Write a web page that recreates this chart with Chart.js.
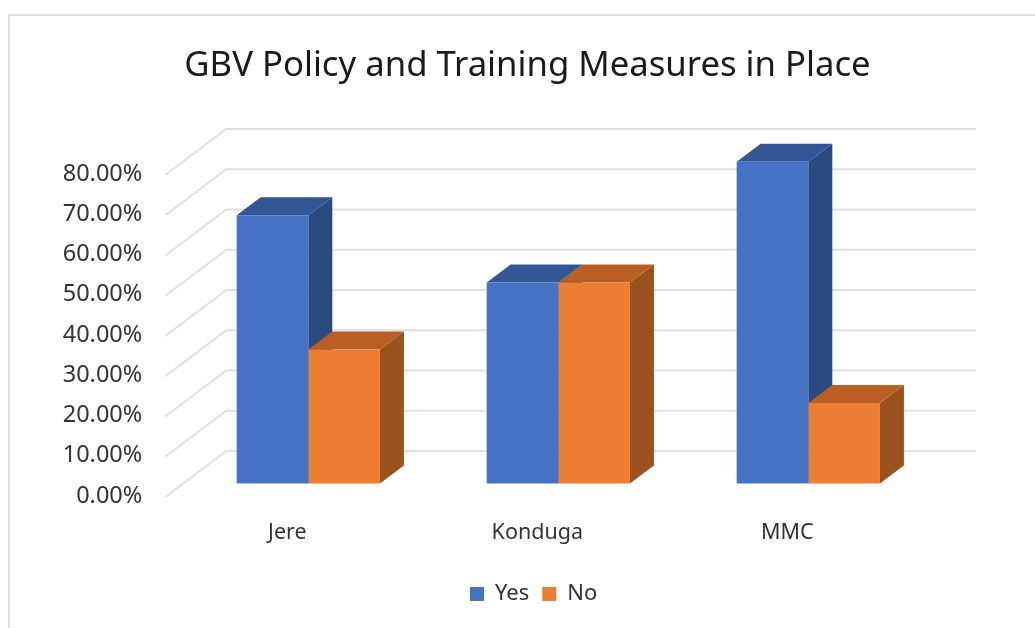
<!DOCTYPE html>
<html>
<head>
<meta charset="utf-8">
<script src="https://cdn.jsdelivr.net/npm/chart.js@4"></script>
<style>
html,body{margin:0;padding:0;background:#fff;overflow:hidden;width:1035px;height:628px}
#frame{position:absolute;left:8px;top:14px;width:1040px;height:640px;border:2px solid #e0e0e0;box-sizing:border-box}
canvas{position:absolute;left:0;top:0}
</style>
</head>
<body>
<div id="frame"></div>
<canvas id="c" width="1035" height="628"></canvas>
<script>
const categories = ["Jere", "Konduga", "MMC"];
const yesValues = [66.67, 50, 80];
const noValues = [33.33, 50, 20];
const chartTitle = "GBV Policy and Training Measures in Place";
const seriesNames = ["Yes", "No"];

const FONT = '"Noto Sans", sans-serif';
const TEXT = '#333333';
const faces = [
  {front:'#4472C4', side:'#2B4A80', top:'#335696'},
  {front:'#ED7D31', side:'#9A521F', top:'#B95F24'}
];
const BAR_DX = 24, BAR_DY = 18;

const depthPlugin = {
  id: 'depth',
  afterLayout(chart) {
    chart.titleBlock.left += 60.85; chart.titleBlock.right += 60.85;
    chart.legend.left += 67; chart.legend.right += 67;
  },
  beforeDatasetsDraw(chart) {
    const ctx = chart.ctx, y = chart.scales.y, a = chart.chartArea;
    ctx.save();
    ctx.strokeStyle = '#e0e0e0';
    ctx.lineWidth = 2;
    y.ticks.forEach(t => {
      const py = y.getPixelForValue(t.value);
      ctx.beginPath();
      ctx.moveTo(a.left - 18, py + 1);
      ctx.lineTo(a.left + 43, py - 45);
      ctx.lineTo(976, py - 45);
      ctx.stroke();
    });
    [0, 1].forEach(i => {
      chart.getDatasetMeta(i).data.forEach(b => {
        const p = b.getProps(['x', 'y', 'base', 'width'], true);
        const l = p.x - p.width / 2, r = p.x + p.width / 2;
        ctx.fillStyle = faces[i].side;
        ctx.beginPath();
        ctx.moveTo(r, p.y); ctx.lineTo(r + BAR_DX, p.y - BAR_DY);
        ctx.lineTo(r + BAR_DX, p.base - BAR_DY); ctx.lineTo(r, p.base);
        ctx.closePath(); ctx.fill();
        ctx.fillStyle = faces[i].top;
        ctx.beginPath();
        ctx.moveTo(l, p.y); ctx.lineTo(l + BAR_DX, p.y - BAR_DY);
        ctx.lineTo(r + BAR_DX, p.y - BAR_DY); ctx.lineTo(r, p.y);
        ctx.closePath(); ctx.fill();
      });
    });
    ctx.restore();
  }
};

new Chart(document.getElementById('c'), {
  type: 'bar',
  data: {
    labels: categories,
    datasets: [
      {label: seriesNames[0], data: yesValues, backgroundColor: faces[0].front, yAxisID: 'yBars'},
      {label: seriesNames[1], data: noValues, backgroundColor: faces[1].front, yAxisID: 'yBars'}
    ]
  },
  plugins: [depthPlugin],
  options: {
    responsive: false,
    animation: false,
    layout: {padding: {left: 0, right: 101.7, top: 0, bottom: 13}},
    datasets: {bar: {barPercentage: 1, categoryPercentage: 0.573}},
    scales: {
      x: {
        grid: {display: false}, border: {display: false},
        ticks: {labelOffset: -21, padding: 16, color: TEXT, font: {family: FONT, size: 21.5}, maxRotation: 0},
        afterFit(s) { s.height = 74; }
      },
      y: {
        min: 0, max: 91.18, position: 'left',
        grid: {display: false}, border: {display: false},
        ticks: {stepSize: 10, padding: 33, color: TEXT, font: {family: FONT, size: 23.5},
          callback: v => v.toFixed(2) + '%'},
        afterBuildTicks(s) { s.ticks = s.ticks.filter(t => t.value <= 80); },
        afterFit(s) { s.width = 183.3; }
      },
      yBars: {min: -3.08, max: 88.1, display: false}
    },
    plugins: {
      tooltip: {enabled: false},
      title: {display: true, text: chartTitle, color: '#1a1a1a',
        font: {family: FONT, size: 34.7, weight: 'normal', lineHeight: 1.2},
        padding: {top: 45, bottom: 42.4}},
      legend: {position: 'bottom',
        labels: {color: TEXT, font: {family: FONT, size: 22}, boxWidth: 14, boxHeight: 14, padding: 13}}
    }
  }
});
</script>
</body>
</html>
